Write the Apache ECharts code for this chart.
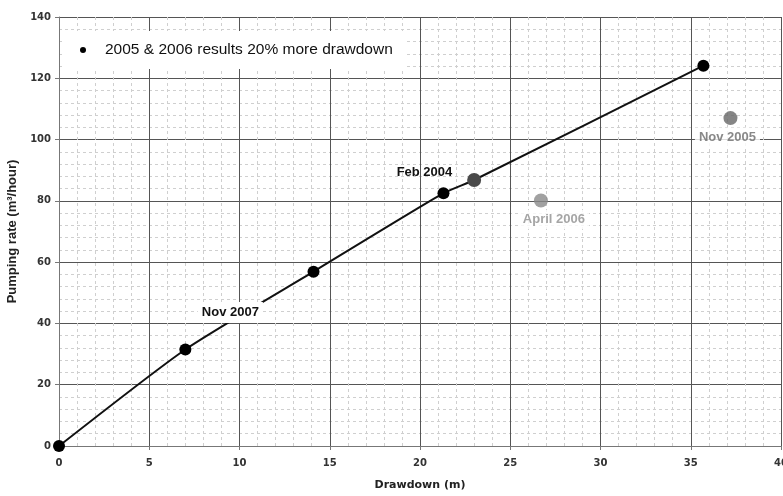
<!DOCTYPE html>
<html>
<head>
<meta charset="utf-8">
<script src="https://cdn.jsdelivr.net/npm/echarts@6/dist/echarts.min.js"></script>
<style>
  html, body { margin: 0; padding: 0; background: #fff; }
  #pumpChart { width: 783px; height: 496px; }
</style>
</head>
<body>
<div id="pumpChart"></div>
<script>
  // drawdown (m) / pumping rate (m3/hour)
  var mainDrawdown = [0, 7.0, 14.1, 21.3, 23.0, 35.7]
  var mainRate = [0, 31.5, 56.9, 82.5, 86.8, 124.1]
  var mainLabels = ['', 'Nov 2007', '', 'Feb 2004', '', '']
  var otherDrawdown = [26.7, 37.2]
  var otherRate = [80.1, 107.0]
  var otherLabels = ['April 2006', 'Nov 2005']
  var xTicks = [0, 5, 10, 15, 20, 25, 30, 35, 40]
  var yTicks = [0, 20, 40, 60, 80, 100, 120, 140]
  var legendName = '2005 & 2006 results 20% more drawdown'

  // label placement / colours (style only)
  var labelOffsets = { 'Nov 2007': [45, -37], 'Feb 2004': [-19, -21], 'April 2006': [13, 19], 'Nov 2005': [-3, 19] }
  var otherColors = ['#8a8a8a', '#666666']

  var mainData = []
  for (var i = 0; i < mainDrawdown.length; i++) {
    var item = { value: [mainDrawdown[i], mainRate[i]] }
    if (i === 4) {
      item.itemStyle = { color: '#4a4a4a' }
      item.symbolSize = 14
    }
    if (mainLabels[i]) {
      item.label = {
        show: true,
        formatter: mainLabels[i],
        position: 'inside',
        offset: labelOffsets[mainLabels[i]],
        color: '#111',
        backgroundColor: mainLabels[i] === 'Nov 2007' ? '#fff' : 'transparent',
        padding: [4, 4]
      }
    }
    mainData.push(item)
  }

  var otherData = []
  for (var j = 0; j < otherDrawdown.length; j++) {
    otherData.push({
      value: [otherDrawdown[j], otherRate[j]],
      itemStyle: { color: otherColors[j] },
      label: {
        show: true,
        formatter: otherLabels[j],
        position: 'inside',
        offset: labelOffsets[otherLabels[j]],
        color: otherColors[j] === '#666666' ? '#6a6a6a' : '#8e8e8e',
        backgroundColor: '#fff',
        padding: [3, 4]
      }
    })
  }

  var option = {
    animation: false,
    backgroundColor: '#fff',
    grid: { left: 59, right: 2, top: 17, bottom: 50, outerBoundsMode: 'none', containLabel: false },
    legend: {
      data: [{ name: legendName, icon: 'circle' }],
      left: 62,
      top: 31,
      orient: 'horizontal',
      backgroundColor: '#fff',
      padding: [11, 14, 11, 18],
      itemWidth: 6,
      itemHeight: 6,
      selectedMode: false,
      textStyle: { fontFamily: 'Liberation Sans, Arial', fontSize: 15.5, color: '#111', padding: [0, 0, 0, 14] }
    },
    xAxis: {
      type: 'value',
      min: xTicks[0],
      max: xTicks[xTicks.length - 1],
      interval: 5,
      name: 'Drawdown (m)',
      nameLocation: 'middle',
      nameGap: 34,
      nameTextStyle: { fontFamily: 'DejaVu Sans', fontWeight: 'bold', fontSize: 11, color: '#222' },
      axisLine: { lineStyle: { color: '#777' } },
      axisTick: { show: true, length: 4, lineStyle: { color: '#777' } },
      axisLabel: { margin: 12, fontFamily: 'DejaVu Sans', fontWeight: 'bold', fontSize: 10, color: '#333' },
      splitLine: { show: true, lineStyle: { color: '#555', width: 1 } },
      minorTick: { show: false, splitNumber: 5 },
      minorSplitLine: { show: true, lineStyle: { color: '#cfcfcf', type: [3, 3], width: 1 } }
    },
    yAxis: {
      type: 'value',
      min: yTicks[0],
      max: yTicks[yTicks.length - 1],
      interval: 20,
      name: 'Pumping rate (m³/hour)',
      nameLocation: 'middle',
      nameGap: 38,
      nameTextStyle: { fontFamily: 'Liberation Sans, Arial', fontWeight: 'bold', fontSize: 13, color: '#222' },
      axisLine: { show: true, lineStyle: { color: '#777' } },
      axisTick: { show: true, length: 4, lineStyle: { color: '#777' } },
      axisLabel: { margin: 8, fontFamily: 'DejaVu Sans', fontWeight: 'bold', fontSize: 10, color: '#333' },
      splitLine: { show: true, lineStyle: { color: '#555', width: 1 } },
      minorTick: { show: false, splitNumber: 5 },
      minorSplitLine: { show: true, lineStyle: { color: '#cfcfcf', type: [3, 3], width: 1 } }
    },
    series: [
      {
        name: legendName,
        type: 'line',
        smooth: 0.2,
        symbol: 'circle',
        symbolSize: 12,
        itemStyle: { color: '#000' },
        lineStyle: { color: '#111', width: 2 },
        label: { fontFamily: 'Liberation Sans, Arial', fontWeight: 'bold', fontSize: 13 },
        data: mainData,
        z: 3
      },
      {
        name: 'other',
        type: 'scatter',
        symbol: 'circle',
        symbolSize: 14,
        label: { fontFamily: 'Liberation Sans, Arial', fontWeight: 'bold', fontSize: 13 },
        data: otherData,
        z: 3
      }
    ]
  }

  var pumpChart = echarts.init(document.getElementById('pumpChart'))
  pumpChart.setOption(option)
</script>
</body>
</html>
